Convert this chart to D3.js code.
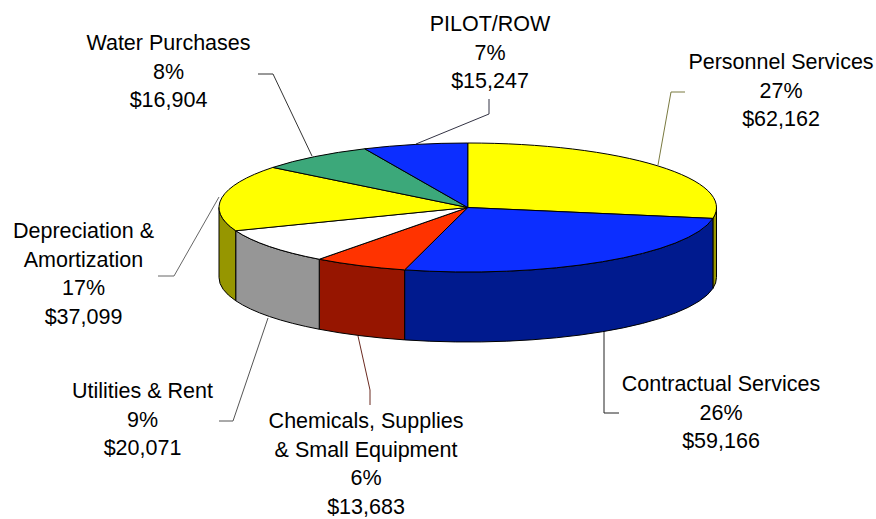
<!DOCTYPE html>
<html>
<head>
<meta charset="utf-8">
<script src="https://cdn.jsdelivr.net/npm/d3@7/dist/d3.min.js"></script>
<style>
html,body{margin:0;padding:0;background:#fff;}
svg{display:block;}
text{font-family:"Liberation Sans",Arial,sans-serif;font-size:21.5px;fill:#000;}
</style>
</head>
<body>
<svg id="chart" width="876" height="519"></svg>
<script>
const categories = ["Personnel Services","Contractual Services","Chemicals, Supplies & Small Equipment","Utilities & Rent","Depreciation & Amortization","Water Purchases","PILOT/ROW"];
const percents = ["27%","26%","6%","9%","17%","8%","7%"];
const values = [62162,59166,13683,20071,37099,16904,15247];

const topColors = ["#ffff00","#0c2eff","#ff3300","#ffffff","#ffff00","#3ca87a","#0c2eff"];
const wallColors = ["#969600","#001a8e","#961500","#969696","#969600","#236348","#001a8e"];

const labelLines = [["Personnel Services"],["Contractual Services"],["Chemicals, Supplies","& Small Equipment"],["Utilities & Rent"],["Depreciation &","Amortization"],["Water Purchases"],["PILOT/ROW"]];
const labelAnchors = [[781,69],[721,391],[366,428],[142.5,398],[83.5,238],[168.5,50],[490,31]];
const leaderPaths = [
  [[658,165],[671,92],[685,92]],
  [[604,331],[604,413],[619,413]],
  [[358,336],[370,390],[370,405]],
  [[268,318],[233,421],[219,421]],
  [[219,197],[174,276],[158,276]],
  [[312,156],[273,74],[258,74]],
  [[416,144],[489,114],[489,99]]
];
const leaderColors = ["#7a7a40","#222","#6b2a20","#555","#666","#333","#334"];

const svg = d3.select("#chart");
const depth = 70, lineStep = 28.7;
const sx = d3.scaleLinear().domain([-1,1]).range([219,716.5]);
const sy = d3.scaleLinear().domain([-1,1]).range([143,272]);
const rx = (sx(1)-sx(-1))/2, ry = (sy(1)-sy(-1))/2;
const px = a => sx(Math.sin(a)), py = a => sy(-Math.cos(a));

const pie = d3.pie().sort(null).value(d=>d);
const arcs = pie(values);

const q1 = Math.PI/2, q3 = Math.PI*1.5;
const wallPath = (a0,a1) => {
  const big = a1-a0 > Math.PI ? 1 : 0;
  return `M${px(a0)},${py(a0)}A${rx},${ry} 0 ${big} 1 ${px(a1)},${py(a1)}`+
         `L${px(a1)},${py(a1)+depth}A${rx},${ry} 0 ${big} 0 ${px(a0)},${py(a0)+depth}Z`;
};
const topPath = (a0,a1) => {
  const big = a1-a0 > Math.PI ? 1 : 0;
  return `M${sx(0)},${sy(0)}L${px(a0)},${py(a0)}A${rx},${ry} 0 ${big} 1 ${px(a1)},${py(a1)}Z`;
};

// leaders sit behind the pie
svg.append("g").selectAll("path").data(leaderPaths).join("path")
  .attr("d", d3.line())
  .attr("fill","none")
  .attr("stroke",(d,i)=>leaderColors[i])
  .attr("stroke-width",1);

// walls
svg.append("g").selectAll("path")
  .data(arcs.filter(d=>d.endAngle>q1 && d.startAngle<q3))
  .join("path")
  .attr("d",d=>wallPath(Math.max(d.startAngle,q1),Math.min(d.endAngle,q3)))
  .attr("fill",d=>wallColors[d.index])
  .attr("stroke","#000")
  .attr("stroke-width",1)
  .attr("stroke-linejoin","round");

// top faces
svg.append("g").selectAll("path").data(arcs).join("path")
  .attr("d",d=>topPath(d.startAngle,d.endAngle))
  .attr("fill",d=>topColors[d.index])
  .attr("stroke","#000")
  .attr("stroke-width",1)
  .attr("stroke-linejoin","round");

// labels
const fmt = d3.format("$,");
const labels = svg.append("g").selectAll("text").data(categories).join("text")
  .attr("text-anchor","middle")
  .attr("aria-label",d=>d);
labels.each(function(d,i){
  const lines = labelLines[i].concat([percents[i],fmt(values[i])]);
  const [x,y] = labelAnchors[i];
  d3.select(this).selectAll("tspan").data(lines).join("tspan")
    .attr("x",x)
    .attr("y",(l,j)=>y+j*lineStep)
    .text(l=>l);
});
</script>
</body>
</html>
